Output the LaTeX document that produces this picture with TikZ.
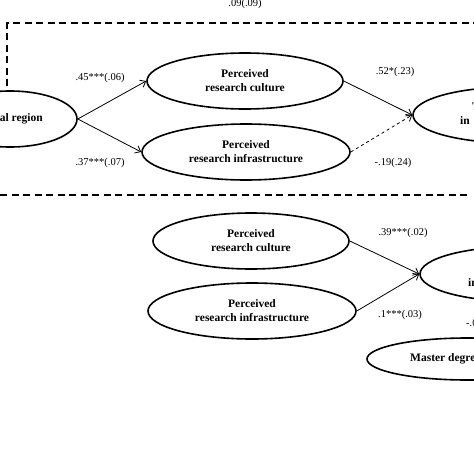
\documentclass[tikz,border=0pt]{standalone}
\usepackage{fontspec}
\setmainfont{Liberation Serif}
\usetikzlibrary{shapes.geometric, arrows.meta}

\begin{document}
\begin{tikzpicture}[x=1pt, y=-1pt,
        oval/.style={draw, ellipse, line width=1.6pt, inner sep=0pt, align=center,
            font=\bfseries\fontsize{11.5}{14}\selectfont},
        bold/.style={inner sep=0pt, align=left, font=\bfseries\fontsize{11.5}{14}\selectfont},
        coef/.style={inner sep=0pt, font=\fontsize{10.5}{12}\selectfont},
        effect/.style={-{Straight Barb[length=5pt, width=8pt]}, line width=0.8pt},
        frame/.style={line width=1.5pt, dash pattern=on 7pt off 4.5pt}]
            \useasboundingbox (0,0) rectangle (474,474);
            \clip (0,0) rectangle (474,474);

            % upper model
            \node[oval, minimum width=134pt, minimum height=56pt] (region) at (10,119) {};
            \node[bold, anchor=east] (regiontxt) at (43,119) {nal region};
            \node[oval, minimum width=196pt, minimum height=56pt] (culture) at (245,81) {Perceived\\research culture};
            \node[oval, minimum width=208pt, minimum height=56pt] (infra) at (246,152) {Perceived\\research infrastructure};
            \node[oval, minimum width=200pt, minimum height=56pt] (transfer) at (513,115) {};
            \node[bold, anchor=west] (transfertxt) at (460,114) {\hspace*{12pt}T\\in};

            \draw[effect] (region.east) -- (culture.west);
            \draw[effect] (region.east) -- (infra.west);
            \draw[effect] (culture.east) -- (transfer.west);
            \draw[effect, dashed] (infra.east) -- (transfer.west);

            \node[coef] (c1) at (100,78) {.45***(.06)};
            \node[coef] (c2) at (100,163) {.37***(.07)};
            \node[coef] (c3) at (395,72) {.52*(.23)};
            \node[coef] (c4) at (393,163) {-.19(.24)};

            % direct path and separator
            \coordinate (corner) at (7,23);
            \draw[frame] (7,86) -- (corner) -- (480,23);
            \node[coef] (direct) at (245,4) {.09(.09)};
            \draw[frame] (0,195) -- (470,195);

            % lower model
            \node[oval, minimum width=196pt, minimum height=56pt] (culture2) at (251,241) {Perceived\\research culture};
            \node[oval, minimum width=208pt, minimum height=56pt] (infra2) at (252,311) {Perceived\\research infrastructure};
            \node[oval, minimum width=200pt, minimum height=55pt] (transfer2) at (520,274) {};
            \node[bold, anchor=west] (transfer2txt) at (468,283) {in};
            \node[oval, minimum width=200pt, minimum height=42pt] (master) at (467,359) {};
            \node[bold, anchor=west] (mastertxt) at (410,359) {Master degree};

            \draw[effect] (culture2.east) -- (transfer2.west);
            \draw[effect] (infra2.east) -- (transfer2.west);

            \node[coef] (c5) at (403,233) {.39***(.02)};
            \node[coef] (c6) at (400,315) {.1***(.03)};
            \node[coef, anchor=west] (c7) at (466,323) {-.0};
\end{tikzpicture}
\end{document}
